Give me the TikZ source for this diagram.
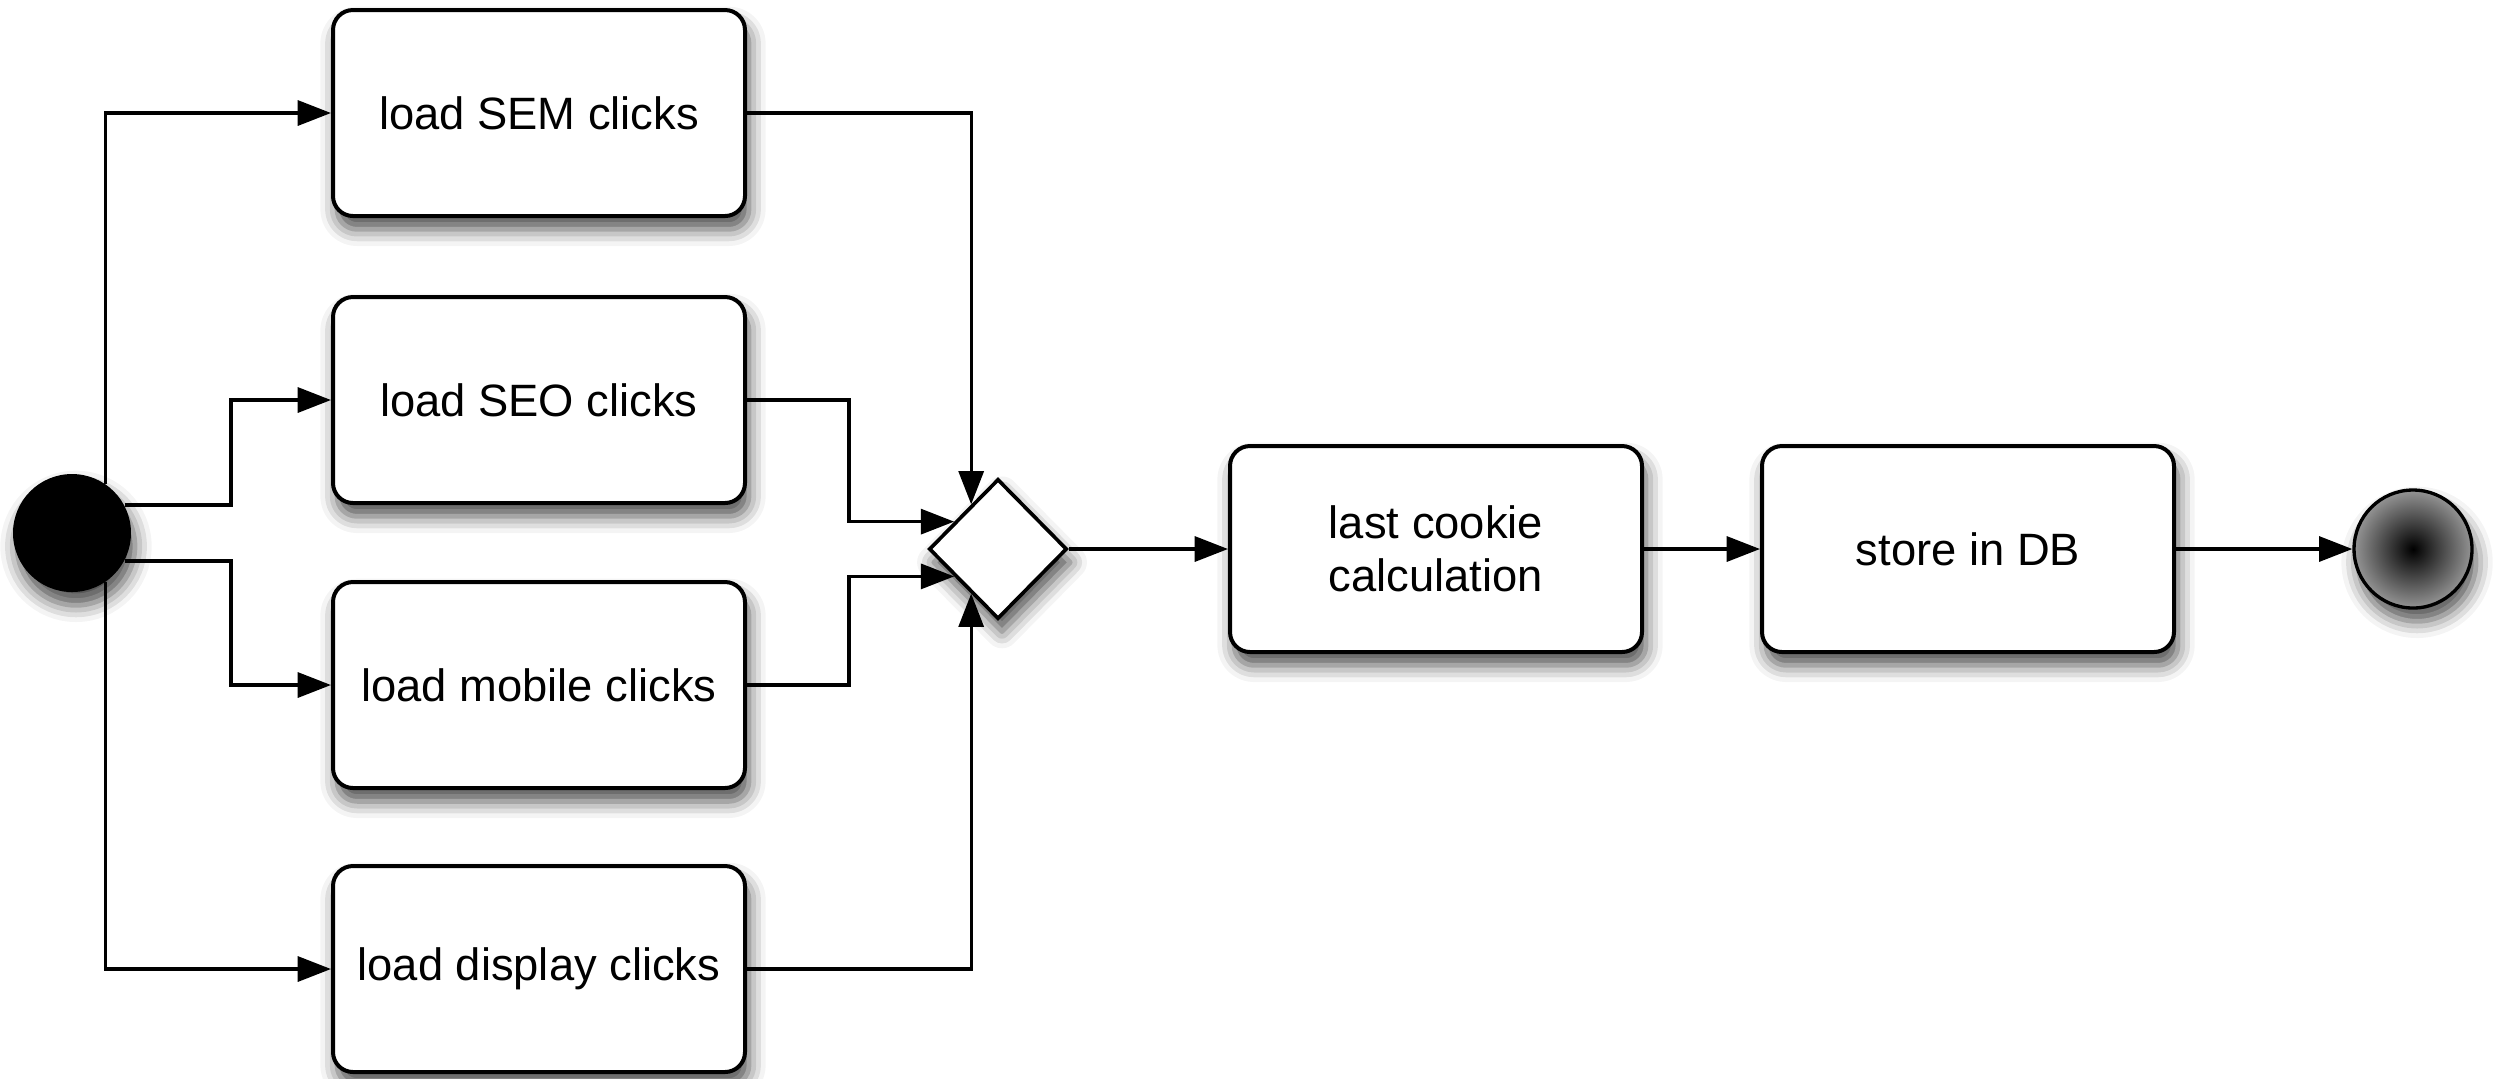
\documentclass[tikz,border=0pt]{standalone}
\usepackage{fontspec}
\setmainfont{Liberation Sans}
\usetikzlibrary{shapes.geometric,arrows.meta,shadows.blur}

\begin{document}
\begin{tikzpicture}[
  x=0.3pt, y=-0.3pt,
  softshadow/.style={blur shadow={shadow xshift=1.2pt, shadow yshift=-4pt,
      shadow blur radius=5pt, shadow opacity=70}},
  action/.style={draw=black, line width=1.2pt, fill=white, rounded corners=6pt,
      minimum width=123.6pt, minimum height=61.8pt, inner sep=2pt,
      align=center, font=\fontsize{13.6}{16}\selectfont, softshadow},
  initial/.style={circle, fill=black, minimum size=35.4pt, inner sep=0pt, softshadow},
  final/.style={circle, draw=black, line width=1pt, minimum size=35.4pt, inner sep=0pt,
      inner color=black, outer color=black!42, softshadow},
  merge/.style={diamond, draw=black, line width=1.1pt, fill=white, inner sep=0pt,
      minimum width=41.4pt, minimum height=42pt, softshadow},
  flow/.style={draw=black, line width=1pt, -{Triangle[length=10pt,width=7.5pt]}},
]
\useasboundingbox (0,0) rectangle (2495,1078);

% nodes
\node[initial] (start) at (72,533) {};
\node[action] (sem)  at (539,113) {load SEM clicks};
\node[action] (seo)  at (539,400) {load SEO clicks};
\node[action] (mob)  at (539,685) {load mobile clicks};
\node[action] (disp) at (539,969) {load display clicks};
\node[merge]  (gate) at (998,549) {};
\node[action] (calc) at (1436,549) {last cookie\\calculation};
\node[action] (db)   at (1968,549) {store in DB};
\node[final]  (stop) at (2413,549) {};

% routing columns
\coordinate (jl) at (231,0);
\coordinate (jr) at (849,0);

% fork from the start node
\draw[flow] (start.56) |- (sem.west);
\draw[flow] (start.28) -- (start.28 -| jl) |- (seo.west);
\draw[flow] (start.-28) -- (start.-28 -| jl) |- (mob.west);
\draw[flow] (start.-56) |- (disp.west);

% join into the merge node
\draw[flow] (sem.east) -| (gate.121);
\draw[flow] (seo.east) -- (seo.east -| jr) -- (jr |- gate.148) -- (gate.148);
\draw[flow] (mob.east) -- (mob.east -| jr) -- (jr |- gate.212) -- (gate.212);
\draw[flow] (disp.east) -| (gate.239);

% main line
\draw[flow] (gate.east) -- (calc.west);
\draw[flow] (calc.east) -- (db.west);
\draw[flow] (db.east) -- (stop.west);
\end{tikzpicture}
\end{document}
